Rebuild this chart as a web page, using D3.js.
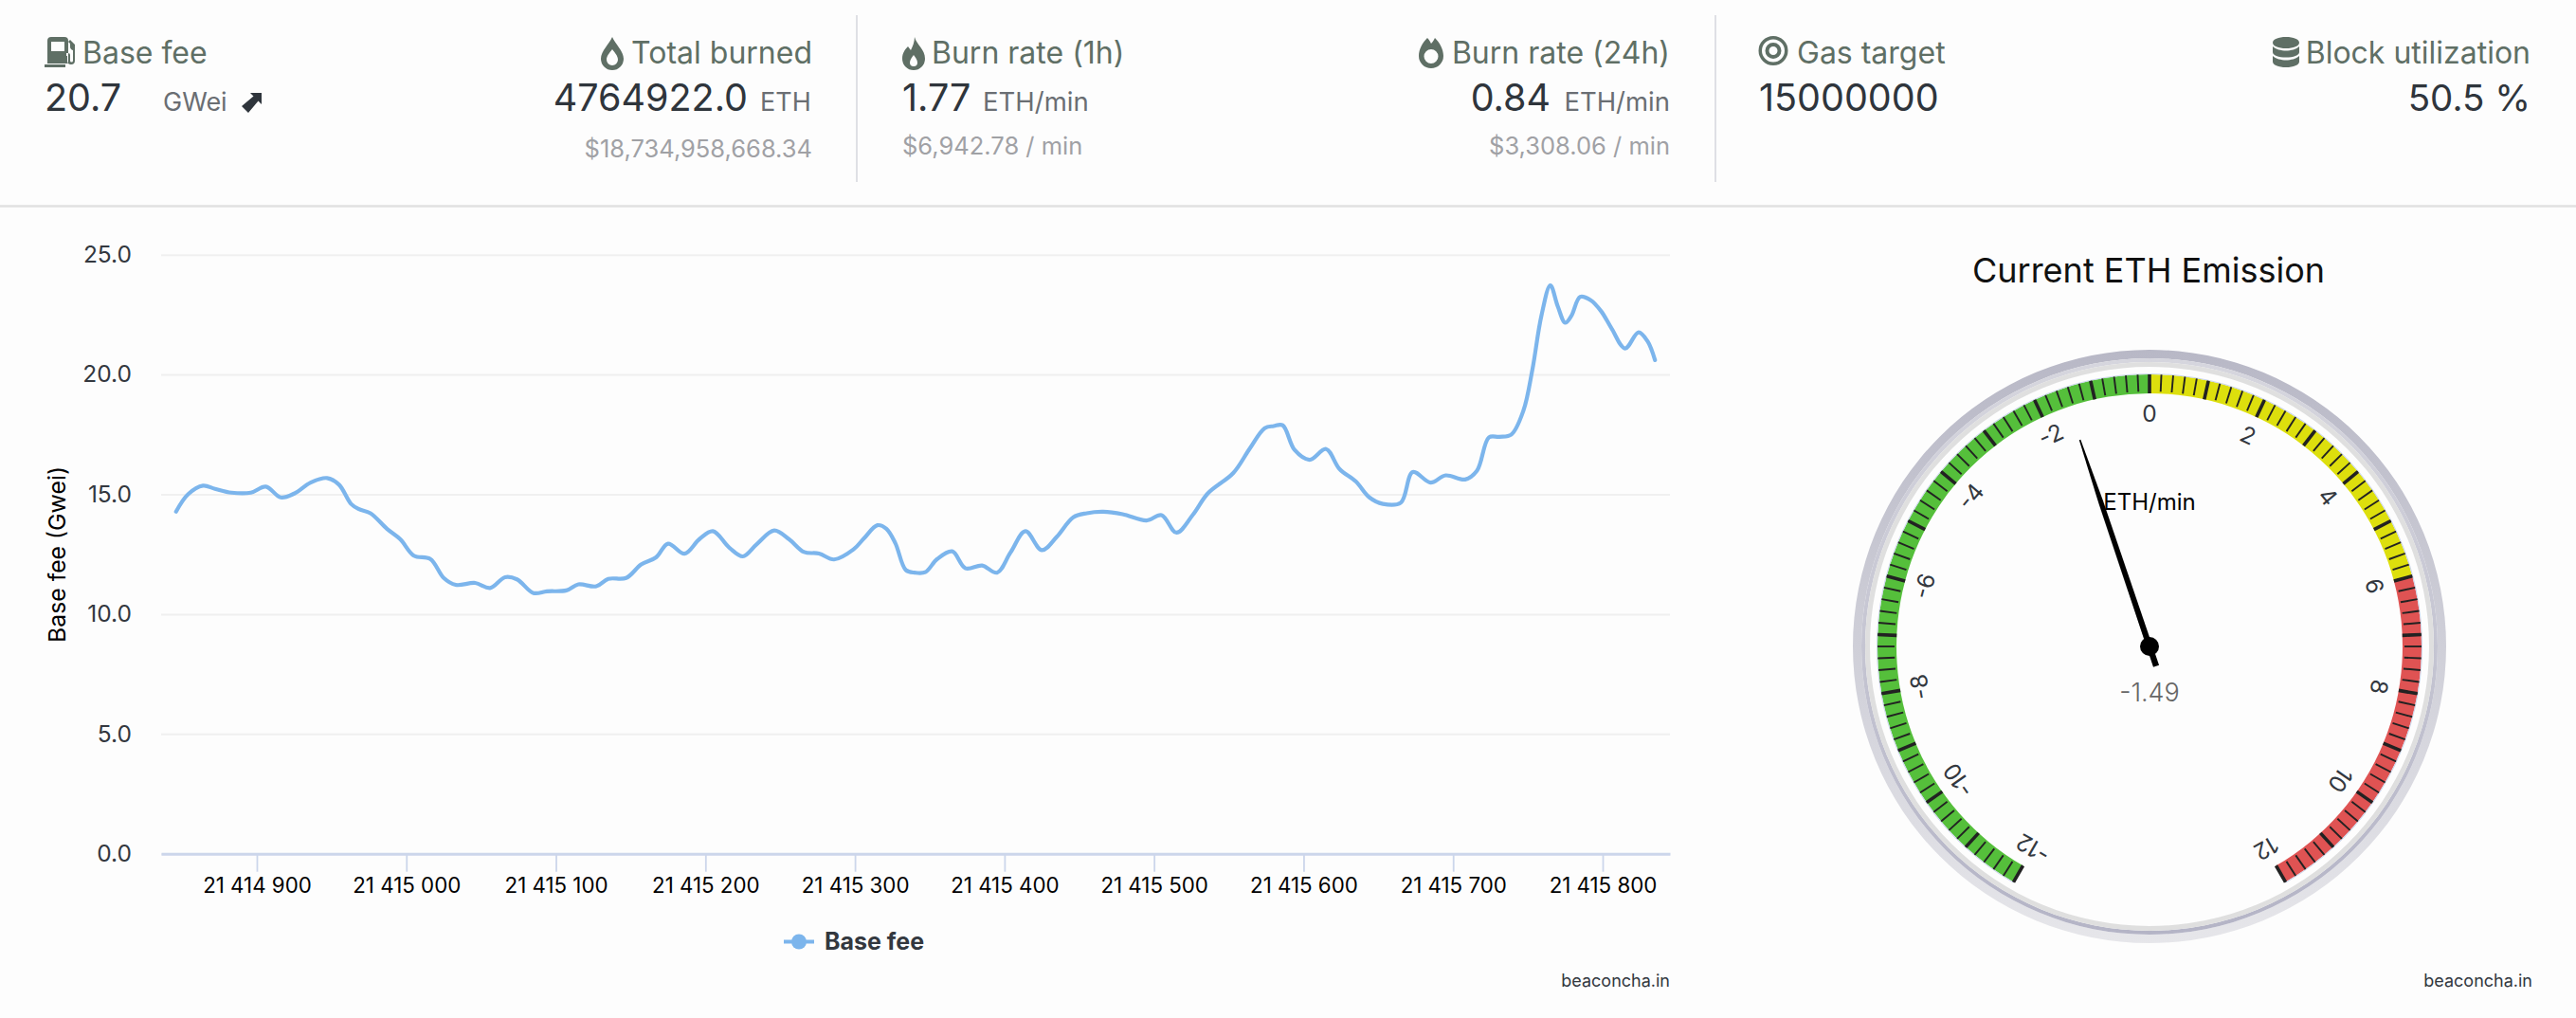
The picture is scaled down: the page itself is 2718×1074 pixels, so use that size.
<!DOCTYPE html>
<html><head><meta charset="utf-8">
<script src="https://cdn.jsdelivr.net/npm/d3@7"></script>
<style>
html,body{margin:0;padding:0;background:#fdfdfd;overflow:hidden}
text{font-family:Inter,"Noto Sans",sans-serif}
</style></head><body><svg id="c" width="2718" height="1074" xmlns="http://www.w3.org/2000/svg"></svg>
<script>
// ---- data ----
const blockNumbers = [21414846,21414854,21414864,21414872,21414883,21414896,21414906,21414916,21414925,21414936,21414947,21414955,21414963,21414968,21414976,21414987,21414996,21415005,21415016,21415025,21415033,21415046,21415056,21415066,21415074,21415085,21415094,21415107,21415115,21415127,21415135,21415147,21415157,21415167,21415175,21415186,21415196,21415205,21415216,21415225,21415234,21415246,21415256,21415266,21415276,21415286,21415299,21415306,21415315,21415321,21415327,21415334,21415340,21415347,21415355,21415365,21415374,21415385,21415395,21415404,21415414,21415425,21415435,21415446,21415455,21415466,21415479,21415495,21415505,21415515,21415526,21415536,21415553,21415564,21415574,21415580,21415586,21415594,21415604,21415615,21415624,21415635,21415644,21415653,21415665,21415673,21415685,21415695,21415708,21415716,21415724,21415731,21415739,21415747,21415753,21415759,21415765,21415770,21415775,21415779,21415785,21415792,21415799,21415806,21415815,21415824,21415830,21415835];
const baseFee = [14.28,15.0,15.36,15.23,15.07,15.07,15.32,14.87,15.03,15.49,15.68,15.4,14.6,14.39,14.21,13.56,13.12,12.44,12.3,11.51,11.22,11.3,11.09,11.54,11.45,10.88,10.95,10.99,11.24,11.16,11.47,11.51,12.07,12.37,12.94,12.52,13.13,13.46,12.77,12.41,12.9,13.49,13.12,12.59,12.53,12.28,12.7,13.16,13.71,13.56,12.96,11.84,11.73,11.75,12.3,12.62,11.91,12.03,11.73,12.57,13.46,12.67,13.23,14.04,14.21,14.27,14.17,13.91,14.13,13.4,14.15,15.04,15.89,16.91,17.76,17.85,17.88,16.85,16.44,16.89,16.06,15.53,14.87,14.6,14.65,15.93,15.49,15.79,15.62,15.99,17.38,17.4,17.5,18.49,20.2,22.44,23.72,22.84,22.16,22.44,23.24,23.1,22.64,21.92,21.09,21.76,21.39,20.6];
const xTickValues = [21414900,21415000,21415100,21415200,21415300,21415400,21415500,21415600,21415700,21415800];
const yTickValues = [0,5,10,15,20,25];
const gaugeValue = -1.49;
const gaugeMin = -12, gaugeMax = 12;
const gaugeZoneNames = ["green","yellow","red"];
const gaugeZoneFrom = [-12,0,6];
const gaugeZoneTo = [0,6,12];
const gaugeLabels = [-12,-10,-8,-6,-4,-2,0,2,4,6,8,10,12];

const svg = d3.select("#c");
const INK="#2f353c", HEAD="#5f6f65", UNIT="#6a6e73", MUTE="#a0a1a5";

// ---- header ----
const hdr = svg.append("g");
function t(x,y,s,size,fill,anchor,weight){
  return hdr.append("text").attr("x",x).attr("y",y).attr("font-size",size).attr("fill",fill)
    .attr("text-anchor",anchor||"start").attr("font-weight",weight||400).text(s);
}
hdr.append("line").attr("x1",0).attr("x2",2718).attr("y1",217.5).attr("y2",217.5).attr("stroke","#e1e1e1").attr("stroke-width",2.5);
[904,1810].forEach(x=>hdr.append("line").attr("x1",x).attr("x2",x).attr("y1",16).attr("y2",192).attr("stroke","#dcdde3").attr("stroke-width",1.8));

t(87,67,"Base fee",32,HEAD);
t(47,117,"20.7",39.5,INK);
t(172,117,"GWei",27,UNIT);
t(857,67,"Total burned",32,HEAD,"end");
t(802,117,"ETH",27,UNIT);
t(789,117,"4764922.0",39.5,INK,"end");
t(857,166,"$18,734,958,668.34",25.5,MUTE,"end");
t(983,67,"Burn rate (1h)",32,HEAD);
t(952,117,"1.77",39.5,INK);
t(1037,117,"ETH/min",27.5,UNIT);
t(952,163,"$6,942.78 / min",25.5,MUTE);
t(1762,67,"Burn rate (24h)",32,HEAD,"end");
t(1762,117,"ETH/min",27.5,UNIT,"end");
t(1636,117,"0.84",39.5,INK,"end");
t(1762,163,"$3,308.06 / min",25.5,MUTE,"end");
t(1896,67,"Gas target",32,HEAD);
t(1856,117,"15000000",39.5,INK);
t(2670,67,"Block utilization",32,HEAD,"end");
t(2670,117,"50.5 %",38.5,INK,"end");

// icons
function icon(x,y,d,fill,rule){ return hdr.append("path").attr("transform",`translate(${x},${y})`).attr("d",d).attr("fill",fill||HEAD).attr("fill-rule",rule||"evenodd"); }
// fuel pump
icon(47,39,"M3 4a4 4 0 0 1 4-4h14a4 4 0 0 1 4 4v24H3zM7 5v10h14V5zM0 29h22v3H0zM27 3l5 5v17a4 4 0 0 1-8 0v-5h-1v-3h2a2 2 0 0 1 2 2v6a1.5 1.5 0 0 0 3 0V14a4 4 0 0 1-3-4V7l-2-2z");
// drop
icon(634,39,"M12 0C15 7 24 15 24 23A12 12 0 0 1 0 23C0 15 9 7 12 0ZM12 13C9 17 6 20 6 24A6 6 0 0 0 18 24C18 20 15 17 12 13Z");
// flame 1h
icon(952,39,"M13 0C15 8 24 13 24 23A12 12 0 0 1 0 23C0 17 3 13 6 10L9 14C11 10 13 5 13 0ZM12 19C10 22 8 24 8 27A4 4 0 0 0 16 27C16 24 14 22 12 19Z");
// flame 24h
icon(1497,40,"M9 0C11 2 12 4 13 6C15 4 16 2 17 0C22 5 26 12 26 19A13 13 0 0 1 0 19C0 12 4 5 9 0ZM13 12A7.5 7.5 0 1 0 13 27A7.5 7.5 0 1 0 13 12Z");
// bullseye
icon(1856,38,"M15 0A15.5 15.5 0 1 1 15 31A15.5 15.5 0 1 1 15 0ZM15 3.5A12 12 0 1 0 15 27.5A12 12 0 1 0 15 3.5ZM15 7A8.5 8.5 0 1 1 15 24A8.5 8.5 0 1 1 15 7ZM15 11A4.5 4.5 0 1 0 15 20A4.5 4.5 0 1 0 15 11Z");
// database
icon(2398,39,"M14 0C22 0 28 2.5 28 6S22 12 14 12S0 9.500 0 6S6 0 14 0ZM0 10C3 13 9 14.500 14 14.500S25 13 28 10V16C28 19.500 22 21.500 14 21.500S0 19.500 0 16ZM0 20C3 23 9 24.500 14 24.500S25 23 28 20V26C28 29.500 22 32 14 32S0 29.500 0 26Z");
// arrow
icon(254,98,"M10 0H22V12L18.500 8.500L8 21L1 14L13.500 3.500Z",INK);

// ---- line chart ----
const M = {left:170,right:1762,top:268.7,bottom:900.7};
const x = d3.scaleLinear().domain([21414836,21415845]).range([M.left,M.right]);
const y = d3.scaleLinear().domain([0,25]).range([M.bottom,M.top]);
const gy = svg.append("g").attr("transform",`translate(${M.left},0)`)
  .call(d3.axisLeft(y).tickValues(yTickValues).tickFormat(d3.format(".1f")).tickSize(-(M.right-M.left)).tickSizeOuter(0).tickPadding(31));
gy.select(".domain").remove();
gy.selectAll(".tick line").attr("stroke","#f0f0f0").attr("stroke-width",2);
gy.selectAll(".tick text").attr("font-size",24.5).attr("fill","#33383f").style("font-family","Inter").attr("dy","0.32em");
const gx = svg.append("g").attr("transform",`translate(0,${M.bottom})`)
  .call(d3.axisBottom(x).tickValues(xTickValues).tickFormat(d=>d3.format(",")(d).replace(/,/g," ")).tickSize(19).tickSizeOuter(0).tickPadding(6));
gx.select(".domain").attr("stroke","#ccd6eb").attr("stroke-width",3);
gx.selectAll(".tick line").attr("stroke","#ccd6eb").attr("stroke-width",1.8);
gx.selectAll(".tick text").attr("font-size",22.3).attr("fill","#000").style("font-family","Inter");
svg.append("text").attr("transform","translate(69,585) rotate(-90)").attr("text-anchor","middle").attr("font-size",24.8).attr("fill","#000").text("Base fee (Gwei)");
svg.append("path").datum(d3.range(blockNumbers.length)).attr("fill","none").attr("stroke","#7cb5ec").attr("stroke-width",4.2).attr("stroke-linecap","round")
  .attr("d",d3.line().x(i=>x(blockNumbers[i])).y(i=>y(baseFee[i])).curve(d3.curveCatmullRom.alpha(0.5)));
// legend
svg.append("line").attr("x1",827).attr("x2",859).attr("y1",993.500).attr("y2",993.500).attr("stroke","#7cb5ec").attr("stroke-width",4);
svg.append("circle").attr("cx",843).attr("cy",993.500).attr("r",8).attr("fill","#7cb5ec");
svg.append("text").attr("x",870).attr("y",1002).attr("font-size",25).attr("font-weight",700).attr("fill","#33383f").text("Base fee");
svg.append("text").attr("x",1762).attr("y",1041).attr("text-anchor","end").attr("font-size",18).attr("fill","#33383f").text("beaconcha.in");
svg.append("text").attr("x",2672).attr("y",1041).attr("text-anchor","end").attr("font-size",18).attr("fill","#33383f").text("beaconcha.in");

// ---- gauge ----
const cx=2268, cy=682;
const angle = d3.scaleLinear().domain([gaugeMin,gaugeMax]).range([-150,150]);
const rad = d=>angle(d)*Math.PI/180;
const defs = svg.append("defs");
function grad(id,top,bottom){
  const g=defs.append("linearGradient").attr("id",id).attr("x1",0).attr("x2",0).attr("y1",0).attr("y2",1);
  g.append("stop").attr("offset",0).attr("stop-color",top);
  g.append("stop").attr("offset",1).attr("stop-color",bottom);
}
grad("rimOuter","#b8b8c6","#e6e6ea");
grad("rimMid","#d6d6de","#b4b4c6");
svg.append("text").attr("x",cx-1).attr("y",298).attr("text-anchor","middle").attr("font-size",36).attr("fill","#111").text("Current ETH Emission");
const G = svg.append("g").attr("transform",`translate(${cx},${cy})`);
const ring=(r0,r1,fill)=>G.append("path").attr("d",d3.arc().innerRadius(r0).outerRadius(r1).startAngle(0).endAngle(2*Math.PI)()).attr("fill",fill);
ring(304,313,"url(#rimOuter)");
ring(300,304,"url(#rimMid)");
ring(295,300,"#dfdfdf");
G.selectAll(".zone").data(gaugeZoneNames).join("path").attr("class","zone")
  .attr("d",(n,i)=>d3.arc().innerRadius(267).outerRadius(287).startAngle(rad(gaugeZoneFrom[i])).endAngle(rad(gaugeZoneTo[i]))())
  .attr("fill",n=>({green:"#55bf3b",yellow:"#dddf0d",red:"#df5353"})[n]);
G.append("path").attr("d",d3.arc().innerRadius(287).outerRadius(288).startAngle(rad(gaugeMin)).endAngle(rad(gaugeMax))()).attr("fill","#ccd6eb");
const minorTicks = d3.range(gaugeMin,gaugeMax+0.001,0.2);
G.selectAll(".mt").data(minorTicks).join("line").attr("class","mt")
  .attr("transform",d=>`rotate(${angle(d)})`).attr("y1",-287).attr("y2",-269)
  .attr("stroke","#222").attr("stroke-width",1.9);
G.selectAll(".Mt").data(d3.range(gaugeMin,gaugeMax+1,1)).join("line").attr("class","Mt")
  .attr("transform",d=>`rotate(${angle(d)})`).attr("y1",-287).attr("y2",-267)
  .attr("stroke","#222").attr("stroke-width",3.6);
G.selectAll(".lab").data(gaugeLabels).join("text").attr("class","lab")
  .attr("transform",d=>`rotate(${angle(d)}) translate(0,-246)`)
  .attr("text-anchor","middle").attr("dy","0.36em").attr("font-size",24.5).attr("fill","#33383f").text(d=>d);
G.append("text").attr("x",0).attr("y",-144).attr("text-anchor","middle").attr("font-size",24).attr("fill","#000").text("ETH/min");
G.append("text").attr("x",0).attr("y",58).attr("text-anchor","middle").attr("font-size",27).attr("font-weight",300).attr("fill","#666").text(gaugeValue);
const needle = G.append("g").attr("transform",`rotate(${angle(gaugeValue)})`);
needle.append("path").attr("d","M-3.200 22L3.200 22L2.600 -161L0.800 -230L-0.800 -230L-2.600 -161Z").attr("fill","#000");
G.append("circle").attr("r",10).attr("fill","#000");
</script></body></html>
